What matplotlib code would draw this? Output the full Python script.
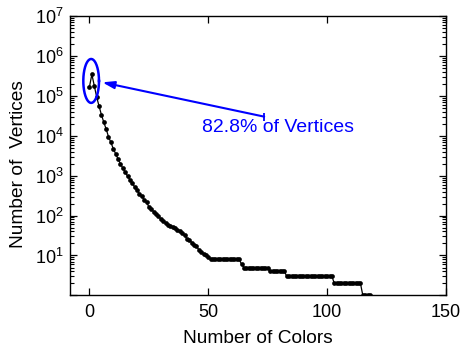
import numpy as np
import matplotlib
matplotlib.use("Agg")
import matplotlib.pyplot as plt
from matplotlib.ticker import LogLocator, NullFormatter, FixedLocator

plt.rcParams['font.family'] = ['Liberation Sans', 'DejaVu Sans']
plt.rcParams['mathtext.fontset'] = 'custom'
plt.rcParams['mathtext.rm'] = 'Liberation Sans'
plt.rcParams['mathtext.it'] = 'Liberation Sans:italic'

# Data
head_counts = [170000, 347000, 182000, 95000, 56000, 34000, 22000, 14800, 9500,
               6800, 4800, 3550, 2630, 2000, 1550, 1230, 980, 795, 645, 525, 427,
               355, 302, 251, 214, 166, 145, 126, 110, 95, 83, 72, 65, 59, 55, 51,
               48, 44, 40, 36, 32, 26, 25, 21, 18, 17, 14, 12, 11, 10, 9]
tail_levels = [8, 6, 5, 4, 3, 2, 1]
tail_runs = [13, 1, 11, 7, 20, 12, 4]
counts = head_counts + [v for v, n in zip(tail_levels, tail_runs) for _ in range(n)]
colors = list(range(len(counts)))

annotation_text = "82.8% of Vertices"
x_ticks = [0, 50, 100, 150]

fig = plt.figure(figsize=(4.61, 3.5), dpi=100)
ax = fig.add_axes([0.1508, 0.156, 0.8167, 0.798])

ax.plot(colors, counts, color='black', lw=0.9, marker='o', ms=3.4,
        markeredgewidth=0, zorder=3)

ax.set_yscale('log')
ax.set_xlim(-8.4, 150)
ax.set_ylim(1, 1e7)

ax.xaxis.set_major_locator(FixedLocator(x_ticks))
ax.yaxis.set_major_locator(LogLocator(base=10, numticks=20))
ax.yaxis.set_minor_locator(LogLocator(base=10, subs=np.arange(2, 10), numticks=20))
ax.yaxis.set_minor_formatter(NullFormatter())

def ylab(v, pos):
    e = int(round(np.log10(v)))
    if e < 1:
        return ''
    return r'$10^{%d}$' % e
ax.yaxis.set_major_formatter(matplotlib.ticker.FuncFormatter(ylab))

ax.tick_params(which='both', direction='in', top=True, right=True, labelsize=13)
ax.tick_params(which='major', length=5, width=0.9)
ax.tick_params(which='minor', length=3, width=0.8)
ax.tick_params(axis='x', pad=6)
ax.tick_params(axis='y', pad=4)
for s in ax.spines.values():
    s.set_linewidth(1.0)

ax.set_xlabel('Number of Colors', fontsize=13.8, labelpad=7)
ax.set_ylabel('Number of  Vertices', fontsize=13.8)
ax.yaxis.set_label_coords(-0.112, 0.47)

# Ellipse around first colors (drawn parametric in log space)
t = np.linspace(0, 2 * np.pi, 200)
cx, cy_log, a, b = 0.7, 5.375, 3.3, 0.55
ax.plot(cx + a * np.cos(t), 10 ** (cy_log + b * np.sin(t)), color='#0000ff',
        lw=1.8, zorder=4)

# Arrow
tail = (73.5, 10 ** 4.48)
head = (5.4, 10 ** 5.34)
ax.annotate('', xy=head, xytext=tail,
            arrowprops=dict(arrowstyle='-|>,head_length=0.7,head_width=0.22',
                            color='#0000ff', lw=1.5, shrinkA=0, shrinkB=0))
ax.plot([tail[0]], [tail[1]], marker='|', color='#0000ff', ms=6, mew=1.3)

ax.text(47.5, 10 ** 4.2, annotation_text, color='#0000ff', fontsize=14,
        ha='left', va='center')

fig.savefig('out.png', dpi=100)
